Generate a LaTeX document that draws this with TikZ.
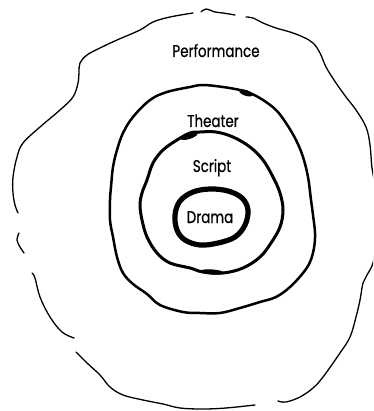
\documentclass[tikz,border=0pt]{standalone}
\usepackage{fontspec}
\newfontfamily\ringfont{Poppins}[FakeStretch=0.79, FakeBold=0.6]
\usepackage{tikz}
\usetikzlibrary{calc}

\begin{document}
\begin{tikzpicture}[
    x=1pt, y=-1pt,
    hand/.style={line cap=round, line join=round},
    outerring/.style={hand, line width=1.3pt},
    theaterring/.style={hand, line width=2.5pt},
    scriptring/.style={hand, line width=3.0pt},
    dramaring/.style={hand, line width=5.2pt},
    ringlabel/.style={anchor=base, inner sep=0pt, font=\ringfont\fontsize{17}{19}\selectfont}
]

\useasboundingbox (0,0) rectangle (373,411);
\clip (0,0) rectangle (373,411);

% -------------------------------------------------
% Performance: outer sketchy line, broken in places
% -------------------------------------------------

\draw[outerring] plot[smooth, tension=0.6] coordinates {
  (193,13) (170,17) (153,22) (140,30) (117,40) (100,48) (87,55)
  (80,63) (79,72) (78,83) (73,97) (60,110) (40,127) (23,143)
  (17,157) (13,177) (13,193) (15,205) (18,213)};

\draw[outerring] plot[smooth, tension=0.6] coordinates {
  (19,233) (17,240) (20,247) (24,253)};

\draw[outerring] plot[smooth, tension=0.6] coordinates {
  (32,273) (35,278) (40,297) (50,317) (62,332) (74,338)};

\draw[outerring] plot[smooth, tension=0.6] coordinates {
  (76,352) (87,363) (100,375) (110,387) (123,395) (143,400)
  (163,404) (180,408) (203,409) (226,408) (255,405)};

\draw[outerring] plot[smooth, tension=0.6] coordinates {
  (278,401) (286,402) (300,397) (313,388) (323,377) (340,353)
  (350,337) (356,317) (360,300) (363,283) (367,275) (373,263)
  (377,240) (378,215) (376,190) (372,168) (370,145) (366,127)
  (356,110) (346,97) (336,83) (326,67) (320,53) (313,43)
  (303,37) (290,32) (276,28) (263,23) (253,18) (246,17)};

\draw[outerring] plot[smooth, tension=0.6] coordinates {
  (201,12) (206,9) (215,12) (223,13) (235,15)};

% -------------------------------------------------
% Theater
% -------------------------------------------------

\draw[theaterring] plot[smooth cycle, tension=0.6] coordinates {
  (190,87) (203,85) (223,87) (240,90) (250,93) (263,100) (276,110)
  (286,123) (296,140) (303,157) (308,177) (311,200) (313,215)
  (315,233) (314,248) (310,262) (303,273) (290,287) (276,297)
  (260,302) (240,308) (220,313) (200,313) (183,312) (160,305)
  (147,294) (133,284) (123,273) (117,257) (113,237) (110,220)
  (110,200) (111,187) (113,167) (117,150) (123,133) (133,117)
  (150,100) (167,92)};

\fill[shift={(246,93)}, rotate=-18] (0,0) ellipse (7 and 2.8);

% -------------------------------------------------
% Script
% -------------------------------------------------

\draw[scriptring] plot[smooth cycle, tension=0.6] coordinates {
  (190,133) (200,132) (216,132) (233,137) (250,147) (263,160)
  (273,177) (280,193) (283,210) (280,227) (271,243) (260,257)
  (243,268) (223,273) (203,272) (190,268) (170,263) (157,253)
  (147,237) (142,220) (140,205) (142,193) (147,180) (153,163)
  (163,150) (177,140)};

\fill[shift={(189,136)}, rotate=18] (0,0) ellipse (9 and 3);
\fill[shift={(212,272)}, rotate=-4] (0,0) ellipse (12 and 2.6);

% -------------------------------------------------
% Drama
% -------------------------------------------------

\draw[dramaring] plot[smooth cycle, tension=0.6] coordinates {
  (175,215) (180,201) (193,192) (210,189) (228,191) (242,198)
  (248,210) (245,225) (235,237) (218,243) (200,245) (185,240)
  (177,230)};

% -------------------------------------------------
% Labels
% -------------------------------------------------

\node[ringlabel] (performance) at (216,57)  {Performance};
\node[ringlabel] (theater)     at (213,127) {Theater};
\node[ringlabel] (script)      at (212,172) {Script};
\node[ringlabel] (drama)       at (210,223) {Drama};

\end{tikzpicture}
\end{document}
